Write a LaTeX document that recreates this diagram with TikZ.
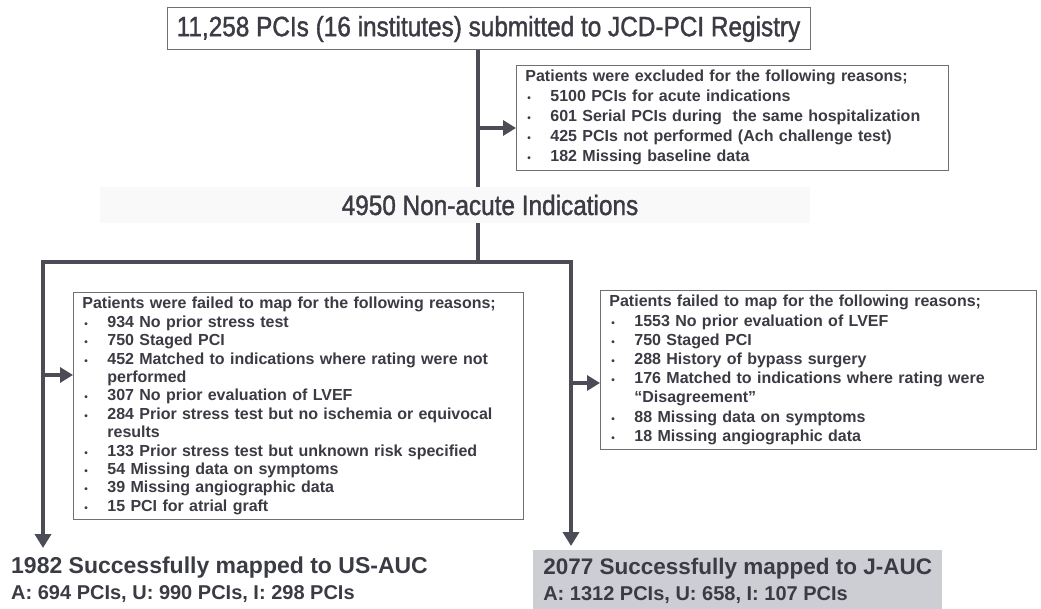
\documentclass[tikz,border=0pt]{standalone}
\usepackage{fontspec}
\setmainfont{Liberation Sans}
\newfontfamily\narrowfont[FakeStretch=0.87,FakeBold=1.3]{Liberation Sans}
\usetikzlibrary{arrows.meta}
\definecolor{ink}{HTML}{3A3B43}
\definecolor{linec}{HTML}{4B4C55}
\definecolor{boxline}{HTML}{707072}
\definecolor{greyfill}{HTML}{CDCDD4}
\newcommand{\bitem}[1]{\makebox[25pt][l]{\hspace{2pt}{\fontsize{10}{10}\selectfont\textbullet}}#1}
\newcommand{\bcont}[1]{\hspace*{25pt}#1}
\tikzset{
  topbox/.style={draw=boxline, line width=1pt, fill=white, minimum width=643pt, minimum height=42pt,
    inner sep=0pt, font=\narrowfont\fontsize{28}{30}\selectfont, text=ink},
  midband/.style={fill=black!2.5, minimum width=710pt, minimum height=36pt, inner sep=0pt,
    font=\narrowfont\fontsize{28}{30}\selectfont, text=ink},
  listbox/.style={draw=boxline, line width=0.8pt, fill=white, align=left, anchor=north west,
    inner xsep=9pt, inner ysep=5pt, text=ink},
  conn/.style={draw=linec, line width=4.5pt, line join=miter},
  tipr/.style={-{Triangle[length=13pt,width=15pt]}},
  resnode/.style={align=left, anchor=north west, inner xsep=9pt, inner ysep=4pt, text=ink,
    font=\bfseries\fontsize{20}{26}\selectfont}
}
\begin{document}
\begin{tikzpicture}[x=1pt,y=-1pt]
\useasboundingbox (0,0) rectangle (1041,609);

\node[topbox] (top) at (488.5,29) {11,258 PCIs (16 institutes) submitted to JCD-PCI Registry};

\node[listbox, text width=414pt, font=\bfseries\fontsize{16}{20}\selectfont] (excl) at (516,65) {%
Patients were excluded for the following reasons;\\
\bitem{5100 PCIs for acute indications}\\
\bitem{601 Serial PCIs during\ \ the same hospitalization}\\
\bitem{425 PCIs not performed (Ach challenge test)}\\
\bitem{182 Missing baseline data}};

\node[midband] (mid) at (455,205) {\hspace*{70pt}4950 Non-acute Indications};

\node[listbox, text width=432pt, font=\bfseries\fontsize{16}{18.4}\selectfont] (lbox) at (73,292) {%
Patients were failed to map for the following reasons;\\
\bitem{934 No prior stress test}\\
\bitem{750 Staged PCI}\\
\bitem{452 Matched to indications where rating were not}\\
\bcont{performed}\\
\bitem{307 No prior evaluation of LVEF}\\
\bitem{284 Prior stress test but no ischemia or equivocal}\\
\bcont{results}\\
\bitem{133 Prior stress test but unknown risk specified}\\
\bitem{54 Missing data on symptoms}\\
\bitem{39 Missing angiographic data}\\
\bitem{15 PCI for atrial graft}};

\node[listbox, text width=418pt, font=\bfseries\fontsize{16}{19.2}\selectfont] (rbox) at (600,290) {%
Patients failed to map for the following reasons;\\
\bitem{1553 No prior evaluation of LVEF}\\
\bitem{750 Staged PCI}\\
\bitem{288 History of bypass surgery}\\
\bitem{176 Matched to indications where rating were}\\
\bcont{``Disagreement''}\\
\bitem{88 Missing data on symptoms}\\
\bitem{18 Missing angiographic data}};

\node[resnode, inner xsep=3pt] (us) at (8,553) {{\fontsize{23}{26}\selectfont 1982 Successfully mapped to US-AUC}\\
A: 694 PCIs, U: 990 PCIs, I: 298 PCIs};

\node[resnode, fill=greyfill, minimum width=409pt, minimum height=62pt] (jp) at (533,550) {{\fontsize{22.5}{26}\selectfont 2077 Successfully mapped to J-AUC}\\
A: 1312 PCIs, U: 658, I: 107 PCIs};

% connectors
\coordinate (tr) at (478,0);
\coordinate (split) at (478,262);
\coordinate (lc) at (43,262);
\coordinate (rc) at (571,262);
\coordinate (lend) at (43,548);
\coordinate (rend) at (571,546);
\coordinate (ea) at (478,128);
\coordinate (la) at (43,375);
\coordinate (ra) at (571,383);

\draw[conn] (top.south -| tr) -- (mid.north -| tr);
\draw[conn] (mid.south -| tr) -- (split);
\draw[conn, {Triangle[length=14pt,width=16pt]}-{Triangle[length=14pt,width=16pt]}] (lend) -- (lc) -- (rc) -- (rend);
\draw[conn, tipr] (ea) -- (ea -| excl.west);
\draw[conn, tipr] (la) -- (la -| lbox.west);
\draw[conn, tipr] (ra) -- (ra -| rbox.west);
\end{tikzpicture}
\end{document}
